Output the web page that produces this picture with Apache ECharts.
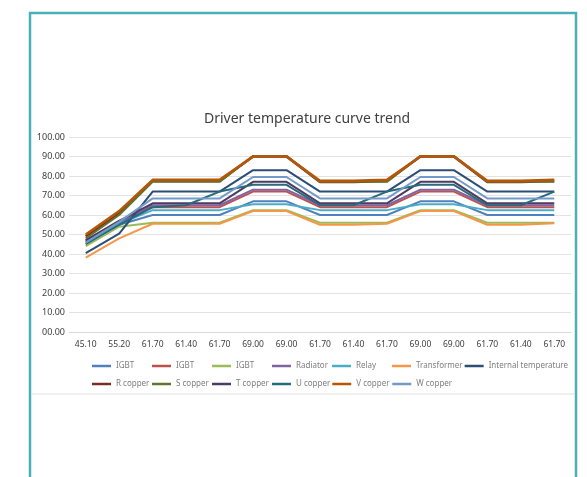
<!DOCTYPE html>
<html>
<head>
<meta charset="utf-8">
<script src="https://cdn.jsdelivr.net/npm/echarts@6/dist/echarts.min.js"></script>
<style>
html,body{margin:0;padding:0;background:#fff;}
#chart{width:587px;height:477px;}
</style>
</head>
<body>
<div id="chart"></div>
<script>
var categories = ['45.10','55.20','61.70','61.40','61.70','69.00','69.00','61.70','61.40','61.70','69.00','69.00','61.70','61.40','61.70'];
var yTicks = [0,10,20,30,40,50,60,70,80,90,100];

var igbt1       = [46, 55, 60, 60, 60, 67, 67, 60, 60, 60, 67, 67, 60, 60, 60];
var igbt2       = [47, 57, 64, 64, 64, 72, 72, 64, 64, 64, 72, 72, 64, 64, 64];
var igbt3       = [44, 54, 56, 56, 56, 62.5, 62.5, 56, 56, 56, 62.5, 62.5, 56, 56, 56];
var radiator    = [46.5, 56, 65, 65, 65, 73, 73, 65, 65, 65, 73, 73, 65, 65, 65];
var relay       = [45.5, 55.5, 62.5, 62.5, 62.5, 65.5, 65.5, 62.5, 62.5, 62.5, 65.5, 65.5, 62.5, 62.5, 62.5];
var transformer = [38.2, 48, 55.5, 55.5, 55.5, 62, 62, 55, 55, 55.5, 62, 62, 55, 55, 55.8];
var internalT   = [40.5, 50.5, 72, 72, 72, 83, 83, 72, 72, 72, 83, 83, 72, 72, 72];
var rCopper     = [49, 61, 77.5, 77.5, 77.5, 90, 90, 77, 77, 77.5, 90, 90, 77, 77, 77.5];
var sCopper     = [48, 60, 77, 77, 77, 90.3, 90.3, 77, 77, 77, 90.3, 90.3, 77, 77, 77];
var tCopper     = [47, 57, 66, 66, 66, 77, 77, 66, 66, 66, 77, 77, 66, 66, 66];
var uCopper     = [45, 55, 64, 65, 72, 75.5, 75.5, 65, 65, 72, 75.5, 75.5, 65, 65, 72];
var vCopper     = [50, 62, 78, 78, 78, 90, 90, 77.5, 77.5, 78, 90, 90, 77.5, 77.5, 78];
var wCopper     = [45.8, 56.5, 68.5, 68.5, 68.5, 79.5, 79.5, 68.5, 68.5, 68.5, 79.5, 79.5, 68.5, 68.5, 68.5];

var seriesNames = ['IGBT#1','IGBT#2','IGBT#3','Radiator','Relay','Transformer','Internal temperature',
                   'R copper','S copper','T copper','U copper','V copper','W copper'];
var seriesData = [igbt1, igbt2, igbt3, radiator, relay, transformer, internalT,
                  rCopper, sCopper, tCopper, uCopper, vCopper, wCopper];
var seriesColors = ['#4F81BD','#C0504D','#9BBB59','#8064A2','#4BACC6','#F79646','#2C4D75',
                    '#772C2A','#5F7530','#4D3B62','#276A7C','#B65708','#729ACA'];

var series = seriesNames.map(function(n, i){
  return {
    name: n, type: 'line', data: seriesData[i], symbol: 'none',
    lineStyle: {width: (i === 7 || i === 11) ? 2.6 : 2, color: seriesColors[i]},
    itemStyle: {color: seriesColors[i]},
    emphasis: {disabled: true}
  };
});

var legendCommon = {
  left: 92, padding: 0, icon: 'rect', itemWidth: 19, itemHeight: 2.5, itemGap: 2,
  selectedMode: false,
  formatter: function(n){ return n.split('#')[0]; },
  textStyle: {fontSize: 8, color: '#7f7f7f', width: 34, overflow: 'none', lineHeight: 10, fontFamily: 'Noto Sans'}
};

var chart = echarts.init(document.getElementById('chart'), null, {renderer: 'canvas'});
chart.setOption({
  backgroundColor: '#ffffff',
  animation: false,
  title: {
    text: 'Driver temperature curve trend', left: 199, top: 107,
    textStyle: {fontSize: 14, fontWeight: 'normal', color: '#404040', fontFamily: 'Noto Sans'}
  },
  legend: [
    Object.assign({}, legendCommon, {top: 361, data: seriesNames.slice(0, 7)}),
    Object.assign({}, legendCommon, {top: 379, data: seriesNames.slice(7)})
  ],
  grid: {left: 69, right: 16, top: 137, bottom: 145, containLabel: false},
  xAxis: {
    type: 'category', data: categories, boundaryGap: true,
    axisLine: {show: true, lineStyle: {color: '#d9d9d9'}},
    axisTick: {show: false},
    axisLabel: {fontSize: 8.5, color: '#404040', margin: 8, interval: 0, fontFamily: 'Noto Sans'}
  },
  yAxis: {
    type: 'value', min: yTicks[0], max: yTicks[yTicks.length - 1], interval: 10,
    axisLine: {show: false}, axisTick: {show: false},
    splitLine: {lineStyle: {color: '#e3e3e3', width: 1}},
    axisLabel: {
      fontSize: 9, color: '#404040', margin: 4, fontFamily: 'Noto Sans',
      formatter: function(v){ return v === 0 ? '00.00' : v.toFixed(2); }
    }
  },
  graphic: [
    {type: 'rect', shape: {x: 30, y: 13, width: 546, height: 490},
     style: {fill: 'none', stroke: '#4BAFBA', lineWidth: 2.5}, silent: true},
    {type: 'line', shape: {x1: 32, y1: 394, x2: 574, y2: 394},
     style: {stroke: '#ebebeb', lineWidth: 1.5}, silent: true}
  ],
  series: series
});
</script>
</body>
</html>
